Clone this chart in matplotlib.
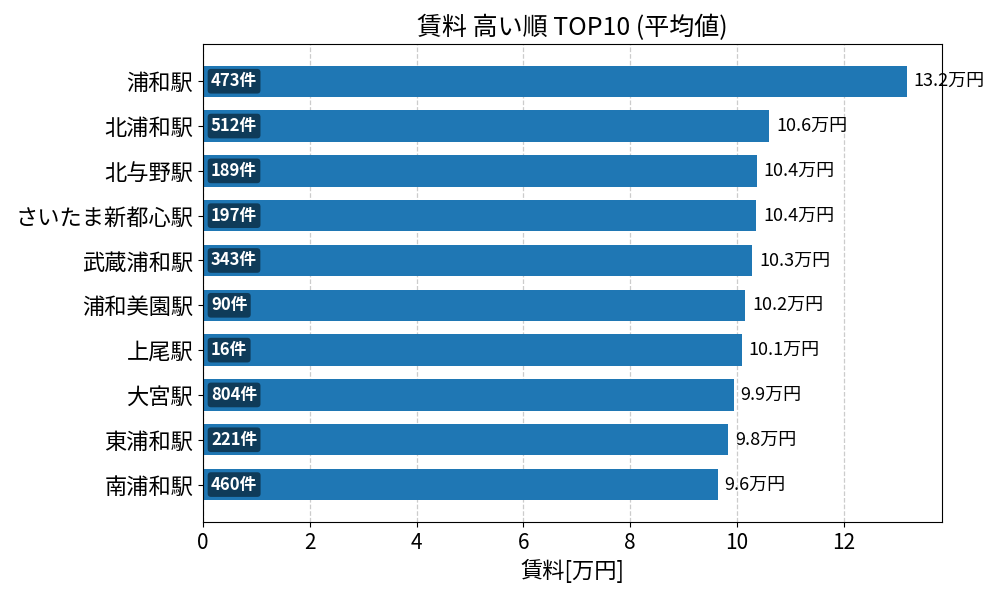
import matplotlib
matplotlib.use("Agg")
import matplotlib.pyplot as plt

plt.rcParams["font.family"] = ["Noto Sans CJK JP", "DejaVu Sans"]

stations = ["浦和駅", "北浦和駅", "北与野駅", "さいたま新都心駅", "武蔵浦和駅",
            "浦和美園駅", "上尾駅", "大宮駅", "東浦和駅", "南浦和駅"]
rent = [13.18, 10.60, 10.37, 10.36, 10.28, 10.15, 10.09, 9.94, 9.83, 9.64]
counts = [473, 512, 189, 197, 343, 90, 16, 804, 221, 460]

fig, ax = plt.subplots(figsize=(10, 6), dpi=100)

y = list(range(len(stations)))
bars = ax.barh(y, rent, height=0.7, color="#1f77b4", zorder=2)
ax.invert_yaxis()
ax.set_yticks(y)
ax.set_yticklabels(stations, fontsize=16)
ax.tick_params(axis="x", labelsize=15)

ax.grid(axis="x", linestyle="--", color="#cccccc", linewidth=0.9, zorder=0)
ax.set_axisbelow(True)

for i, (v, c) in enumerate(zip(rent, counts)):
    ax.text(v + 0.13, i, f"{v:.1f}万円", va="center", ha="left", fontsize=13, zorder=1)
    ax.text(0.15, i, f"{c}件", va="center", ha="left", fontsize=12, color="white",
            fontweight="bold", zorder=4,
            bbox=dict(boxstyle="round,pad=0.2", facecolor="black", alpha=0.5, edgecolor="none"))

ax.set_xlabel("賃料[万円]", fontsize=16)
ax.set_title("賃料 高い順 TOP10 (平均値)", fontsize=18)

fig.subplots_adjust(left=0.203, right=0.942, top=0.927, bottom=0.13)
fig.savefig("out.png")
